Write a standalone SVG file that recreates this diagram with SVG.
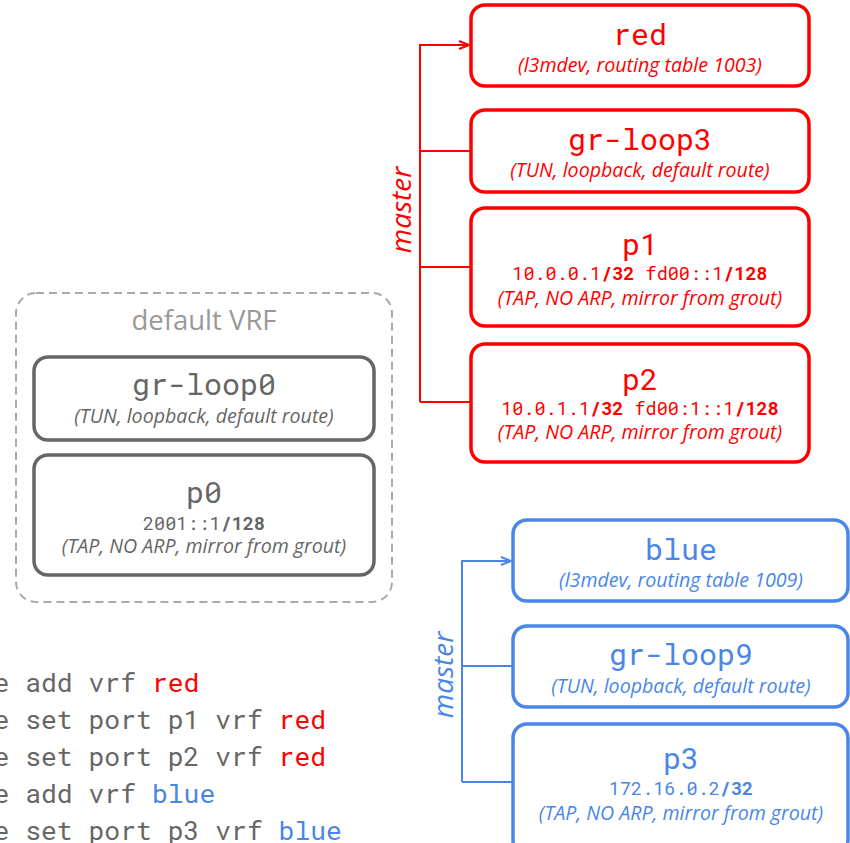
<svg xmlns="http://www.w3.org/2000/svg" width="850" height="843" viewBox="0 0 850 843">
  <style>
    .box { fill: #fff; stroke-width: 3.5; }
    .red { stroke: #ff0000; }
    .blue { stroke: #4a86e8; }
    .gray { stroke: #666666; }
    .mono { font-family: "Roboto Mono", "DejaVu Sans Mono", monospace; }
    .title { font-size: 30px; text-anchor: middle; }
    .addr { font-size: 18.5px; text-anchor: middle; }
    .note { font-family: "Open Sans", "Noto Sans", sans-serif; font-style: italic; font-size: 19.6px; text-anchor: middle; }
    .lbl { font-family: "Open Sans", "Noto Sans", sans-serif; font-style: italic; font-size: 28px; text-anchor: middle; }
    .cmd { font-size: 26.4px; fill: #666666; }
    .wire { fill: none; stroke-width: 2; }
    .b { font-weight: bold; }
    .tr { fill: #ff0000; }
    .tb { fill: #4a86e8; }
    .tg { fill: #666666; }
  </style>
  <defs>
    <marker id="arrowRed" markerWidth="12" markerHeight="10" refX="11" refY="5" orient="auto" markerUnits="userSpaceOnUse">
      <polyline points="1,1 11,5 1,9" fill="none" stroke="#ff0000" stroke-width="2"/>
    </marker>
    <marker id="arrowBlue" markerWidth="12" markerHeight="10" refX="11" refY="5" orient="auto" markerUnits="userSpaceOnUse">
      <polyline points="1,1 11,5 1,9" fill="none" stroke="#4a86e8" stroke-width="2"/>
    </marker>
  </defs>

  <!-- connectors -->
  <g id="connectors">
    <path class="wire red" d="M420,402 V45 H469" marker-end="url(#arrowRed)"/>
    <path class="wire red" d="M420,151 H470 M420,267 H470 M420,402 H470"/>
    <text class="lbl tr" transform="translate(411,210) rotate(-90)">master</text>
    <path class="wire blue" d="M462,782 V561 H511" marker-end="url(#arrowBlue)"/>
    <path class="wire blue" d="M462,666 H512 M462,782 H512"/>
    <text class="lbl tb" transform="translate(453,675) rotate(-90)">master</text>
  </g>

  <!-- default VRF container -->
  <g id="default-vrf">
    <rect x="16" y="293" width="376" height="309" rx="20" fill="none" stroke="#aaaaaa" stroke-width="2" stroke-dasharray="8 5"/>
    <text x="204" y="330" font-family="Open Sans, Noto Sans, sans-serif" font-size="27.5" fill="#999999" text-anchor="middle">default VRF</text>
  </g>

  <g id="gr-loop0">
    <rect class="box gray" x="34" y="357" width="340" height="83" rx="14"/>
    <text class="mono title tg" x="204" y="395">gr-loop0</text>
    <text class="note tg" x="204" y="423">(TUN, loopback, default route)</text>
  </g>

  <g id="p0">
    <rect class="box gray" x="34" y="455" width="340" height="120" rx="14"/>
    <text class="mono title tg" x="204" y="503">p0</text>
    <text class="mono addr tg" x="204" y="530">2001::1<tspan class="b">/128</tspan></text>
    <text class="note tg" x="204" y="553">(TAP, NO ARP, mirror from grout)</text>
  </g>

  <!-- red VRF -->
  <g id="red">
    <rect class="box red" x="471" y="5" width="338" height="81" rx="14"/>
    <text class="mono title tr" x="640" y="45">red</text>
    <text class="note tr" x="640" y="72">(l3mdev, routing table 1003)</text>
  </g>

  <g id="gr-loop3">
    <rect class="box red" x="471" y="110" width="338" height="82" rx="14"/>
    <text class="mono title tr" x="640" y="150">gr-loop3</text>
    <text class="note tr" x="640" y="177">(TUN, loopback, default route)</text>
  </g>

  <g id="p1">
    <rect class="box red" x="471" y="208" width="338" height="118" rx="14"/>
    <text class="mono title tr" x="640" y="255">p1</text>
    <text class="mono addr tr" x="640" y="280">10.0.0.1<tspan class="b">/32</tspan> fd00::1<tspan class="b">/128</tspan></text>
    <text class="note tr" x="640" y="305">(TAP, NO ARP, mirror from grout)</text>
  </g>

  <g id="p2">
    <rect class="box red" x="471" y="344" width="338" height="118" rx="14"/>
    <text class="mono title tr" x="640" y="390">p2</text>
    <text class="mono addr tr" x="640" y="415">10.0.1.1<tspan class="b">/32</tspan> fd00:1::1<tspan class="b">/128</tspan></text>
    <text class="note tr" x="640" y="439">(TAP, NO ARP, mirror from grout)</text>
  </g>

  <!-- blue VRF -->
  <g id="blue">
    <rect class="box blue" x="513" y="520" width="335" height="81" rx="14"/>
    <text class="mono title tb" x="681" y="560">blue</text>
    <text class="note tb" x="681" y="587">(l3mdev, routing table 1009)</text>
  </g>

  <g id="gr-loop9">
    <rect class="box blue" x="513" y="626" width="335" height="81" rx="14"/>
    <text class="mono title tb" x="681" y="665">gr-loop9</text>
    <text class="note tb" x="681" y="693">(TUN, loopback, default route)</text>
  </g>

  <g id="p3">
    <rect class="box blue" x="513" y="724" width="335" height="130" rx="14"/>
    <text class="mono title tb" x="681" y="769">p3</text>
    <text class="mono addr tb" x="681" y="795">172.16.0.2<tspan class="b">/32</tspan></text>
    <text class="note tb" x="681" y="820">(TAP, NO ARP, mirror from grout)</text>
  </g>

  <!-- command listing -->
  <g id="commands" class="mono cmd">
    <text x="-6.5" y="692">e add vrf <tspan class="tr">red</tspan></text>
    <text x="-6.5" y="729">e set port p1 vrf <tspan class="tr">red</tspan></text>
    <text x="-6.5" y="766">e set port p2 vrf <tspan class="tr">red</tspan></text>
    <text x="-6.5" y="803">e add vrf <tspan class="tb">blue</tspan></text>
    <text x="-6.5" y="840">e set port p3 vrf <tspan class="tb">blue</tspan></text>
  </g>
</svg>
